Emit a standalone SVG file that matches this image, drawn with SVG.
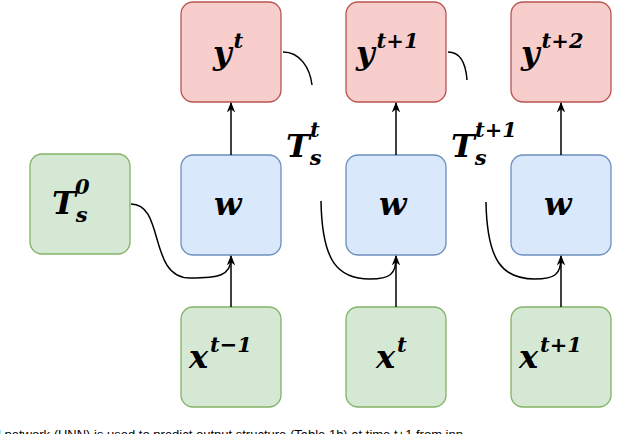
<svg xmlns="http://www.w3.org/2000/svg" width="640" height="434" viewBox="0 0 640 434">
<defs>
<style>
.r{fill:#f8cecc;stroke:#b85450;stroke-width:1.3}
.b{fill:#dae8fc;stroke:#6c8ebf;stroke-width:1.3}
.g{fill:#d5e8d4;stroke:#82b366;stroke-width:1.3}
.m{font-family:"DejaVu Serif",serif;font-style:italic;font-weight:bold;font-size:32px;fill:#000}
.sp{font-size:21px}
.c{fill:none;stroke:#000;stroke-width:1.5}
</style>
<marker id="a" viewBox="0 0 10 10" refX="9" refY="5" markerWidth="7" markerHeight="7" orient="auto"><path d="M0,1 L10,5 L0,9 L3,5 Z" fill="#000"/></marker>
</defs>
<g id="y1"><rect class="r" x="181" y="2" width="100" height="100" rx="12"/><text class="m" x="213" y="64">y<tspan class="sp" dx="2" dy="-16">t</tspan></text></g>
<g id="y2"><rect class="r" x="346" y="2" width="100" height="100" rx="12"/><text class="m" x="356" y="64">y<tspan class="sp" dx="2" dy="-16">t+1</tspan></text></g>
<g id="y3"><rect class="r" x="511" y="2" width="100" height="100" rx="12"/><text class="m" x="521" y="64">y<tspan class="sp" dx="2" dy="-16">t+2</tspan></text></g>
<g id="w1"><rect class="b" x="181" y="155" width="100" height="100" rx="12"/><text class="m" x="214" y="215">w</text></g>
<g id="w2"><rect class="b" x="346" y="155" width="100" height="100" rx="12"/><text class="m" x="379" y="215">w</text></g>
<g id="w3"><rect class="b" x="511" y="155" width="100" height="100" rx="12"/><text class="m" x="544" y="215">w</text></g>
<g id="x1"><rect class="g" x="181" y="307" width="100" height="100" rx="12"/><text class="m" x="189" y="368">x<tspan class="sp" dx="2" dy="-16">t−1</tspan></text></g>
<g id="x2"><rect class="g" x="346" y="307" width="100" height="100" rx="12"/><text class="m" x="376" y="368">x<tspan class="sp" dx="2" dy="-16">t</tspan></text></g>
<g id="x3"><rect class="g" x="511" y="307" width="100" height="100" rx="12"/><text class="m" x="519" y="368">x<tspan class="sp" dx="2" dy="-16">t+1</tspan></text></g>
<g id="t0"><rect class="g" x="30" y="154" width="100" height="100" rx="12"/><text class="m" x="52" y="214">T<tspan class="sp" dy="8">s</tspan></text><text class="m sp" x="75" y="194">0</text></g>
<g id="lt1"><text class="m" x="286" y="157">T<tspan class="sp" dy="8">s</tspan></text><text class="m sp" x="310" y="137">t</text></g>
<g id="lt2"><text class="m" x="451" y="157">T<tspan class="sp" dy="8">s</tspan></text><text class="m sp" x="475" y="137">t+1</text></g>
<g id="connectors">
<path class="c" d="M231,307 V256" marker-end="url(#a)"/>
<path class="c" d="M396,307 V256" marker-end="url(#a)"/>
<path class="c" d="M561,307 V256" marker-end="url(#a)"/>
<path class="c" d="M231,155 V103" marker-end="url(#a)"/>
<path class="c" d="M396,155 V103" marker-end="url(#a)"/>
<path class="c" d="M561,155 V103" marker-end="url(#a)"/>
<path class="c" d="M131,204 C165,204 148,278 190,278 C218,278 231,276 231,258"/>
<path class="c" d="M321,201 C322,262 338,279 370,279 C390,279 396,274 396,258"/>
<path class="c" d="M486,202 C487,262 503,279 535,279 C555,279 561,274 561,258"/>
<path class="c" d="M283,52 C300,52 310,68 312,85"/>
<path class="c" d="M448,52 C462,52 466,66 467,80"/>
</g>
<text x="-2" y="439" font-family="Liberation Sans,sans-serif" font-size="13" fill="#000">l network (HNN) is used to predict output structure (Table 1b) at time t+1 from inp</text>
</svg>
